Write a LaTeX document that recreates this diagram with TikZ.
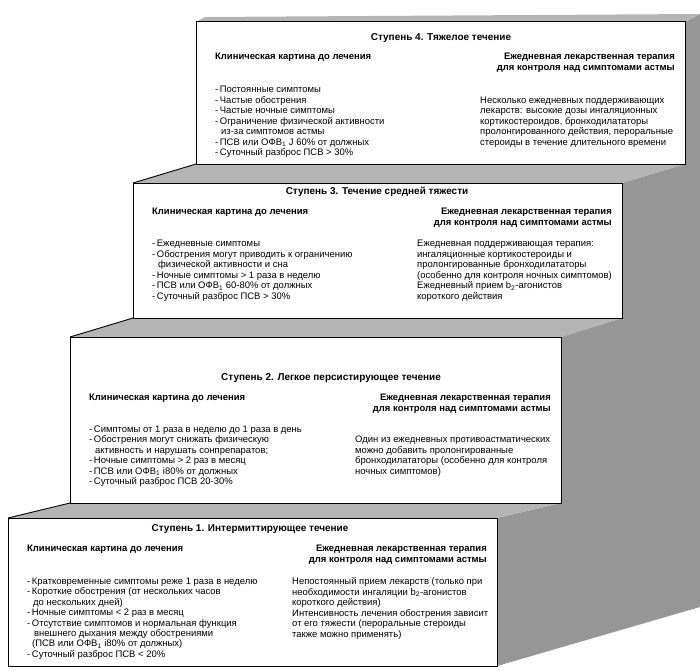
\documentclass[tikz,border=0pt]{standalone}
\usepackage{fontspec}
\setmainfont{Liberation Sans}
\definecolor{topgrey}{RGB}{180,180,180}
\definecolor{sidegrey}{RGB}{150,150,150}
\begin{document}
\begin{tikzpicture}[x=1bp,y=-1bp,
  stepbox/.style={draw=black,line width=1bp,fill=white,anchor=north west,inner sep=0pt,outer sep=0pt},
  ttl/.style={font=\fontsize{10}{12}\selectfont\bfseries,anchor=north,inner sep=0pt},
  hdl/.style={font=\fontsize{9.5}{11}\selectfont\bfseries,anchor=north west,inner sep=0pt},
  hdr/.style={font=\fontsize{9.5}{10.8}\selectfont\bfseries,align=right,anchor=north east,inner sep=0pt},
  body/.style={font=\fontsize{9.5}{10.5}\selectfont,align=left,anchor=north west,inner sep=0pt},
  edge/.style={draw=black,line width=0.9bp}
]
\useasboundingbox (0,0) rectangle (700,671);
% side face
\fill[sidegrey] (685,22) -- (700,14) -- (700,607) -- (497,666) -- (497,518) -- (561,503)
  -- (561,337) -- (622,318) -- (622,183) -- (685,164) -- cycle;
% top faces
\fill[topgrey] (196,22) -- (205,17) -- (700,14) -- (685,22) -- cycle;
\fill[topgrey] (133,183) -- (196,164) -- (685,164) -- (622,183) -- cycle;
\fill[topgrey] (70,337) -- (133,318) -- (622,318) -- (561,337) -- cycle;
\fill[topgrey] (8,518) -- (70,503) -- (561,503) -- (497,518) -- cycle;
% boxes
\node[stepbox,minimum width=489bp,minimum height=142bp] (s4) at (196,22) {};
\node[stepbox,minimum width=489bp,minimum height=135bp] (s3) at (133,183) {};
\node[stepbox,minimum width=491bp,minimum height=166bp] (s2) at (70,337) {};
\node[stepbox,minimum width=489bp,minimum height=148bp] (s1) at (8,518) {};
\draw[edge] (s3.north west) -- (s4.south west);
\draw[edge] (s2.north west) -- (s3.south west);
\draw[edge] (s1.north west) -- (s2.south west);

% Step 4
\node[ttl] (t4) at (441,33) {Ступень 4. Тяжелое течение};
\node[hdl] (l4) at (215,53) {Клиническая картина до лечения};
\node[hdr] (r4) at (675,53) {Ежедневная лекарственная терапия\\для контроля над симптомами астмы};
\node[body] (b4) at (215,86) {-\,Постоянные симптомы\\-\,Частые обострения\\-\,Частые ночные симптомы\\-\,Ограничение физической активности\\\hspace*{6bp}из-за симптомов астмы\\-\,ПСВ или ОФВ\textsubscript{1} J 60\% от должных\\-\,Суточный разброс ПСВ > 30\%};
\node[body] (d4) at (480,96.5) {Несколько ежедневных поддерживающих\\лекарств: высокие дозы ингаляционных\\кортикостероидов, бронходилататоры\\пролонгированного действия, пероральные\\стероиды в течение длительного времени};

% Step 3
\node[ttl] (t3) at (377,187) {Ступень 3. Течение средней тяжести};
\node[hdl] (l3) at (152,208) {Клиническая картина до лечения};
\node[hdr] (r3) at (612,208) {Ежедневная лекарственная терапия\\для контроля над симптомами астмы};
\node[body] (b3) at (152,240) {-\,Ежедневные симптомы\\-\,Обострения могут приводить к ограничению\\\hspace*{6bp}физической активности и сна\\-\,Ночные симптомы > 1 раза в неделю\\-\,ПСВ или ОФВ\textsubscript{1} 60-80\% от должных\\-\,Суточный разброс ПСВ > 30\%};
\node[body] (d3) at (417,240) {Ежедневная поддерживающая терапия:\\ингаляционные кортикостероиды и\\пролонгированные бронходилататоры\\(особенно для контроля ночных симптомов)\\Ежедневный прием b\textsubscript{2}-агонистов\\короткого действия};

% Step 2
\node[ttl] (t2) at (331,373) {Ступень 2. Легкое персистирующее течение};
\node[hdl] (l2) at (89,394) {Клиническая картина до лечения};
\node[hdr] (r2) at (551,394) {Ежедневная лекарственная терапия\\для контроля над симптомами астмы};
\node[body] (b2) at (89,425.5) {-\,Симптомы от 1 раза в неделю до 1 раза в день\\-\,Обострения могут снижать физическую\\\hspace*{6bp}активность и нарушать сонпрепаратов;\\-\,Ночные симптомы > 2 раз в месяц\\-\,ПСВ или ОФВ\textsubscript{1} i80\% от должных\\-\,Суточный разброс ПСВ 20-30\%};
\node[body] (d2) at (355,436) {Один из ежедневных противоастматических\\можно добавить пролонгированные\\бронходилататоры (особенно для контроля\\ночных симптомов)};

% Step 1
\node[ttl] (t1) at (250,524) {Ступень 1. Интермиттирующее течение};
\node[hdl] (l1) at (27,545) {Клиническая картина до лечения};
\node[hdr] (r1) at (487,545) {Ежедневная лекарственная терапия\\для контроля над симптомами астмы};
\node[body] (b1) at (27,577.5) {-\,Кратковременные симптомы реже 1 раза в неделю\\-\,Короткие обострения (от нескольких часов\\\hspace*{6bp}до нескольких дней)\\-\,Ночные симптомы < 2 раз в месяц\\-\,Отсутствие симптомов и нормальная функция\\\hspace*{7bp}внешнего дыхания между обострениями\\\hspace*{5bp}(ПСВ или ОФВ\textsubscript{1} i80\% от должных)\\-\,Суточный разброс ПСВ < 20\%};
\node[body] (d1) at (292,577.5) {Непостоянный прием лекарств (только при\\необходимости ингаляции b\textsubscript{2}-агонистов\\короткого действия)\\Интенсивность лечения обострения зависит\\от его тяжести (пероральные стероиды\\также можно применять)};
\end{tikzpicture}
\end{document}
